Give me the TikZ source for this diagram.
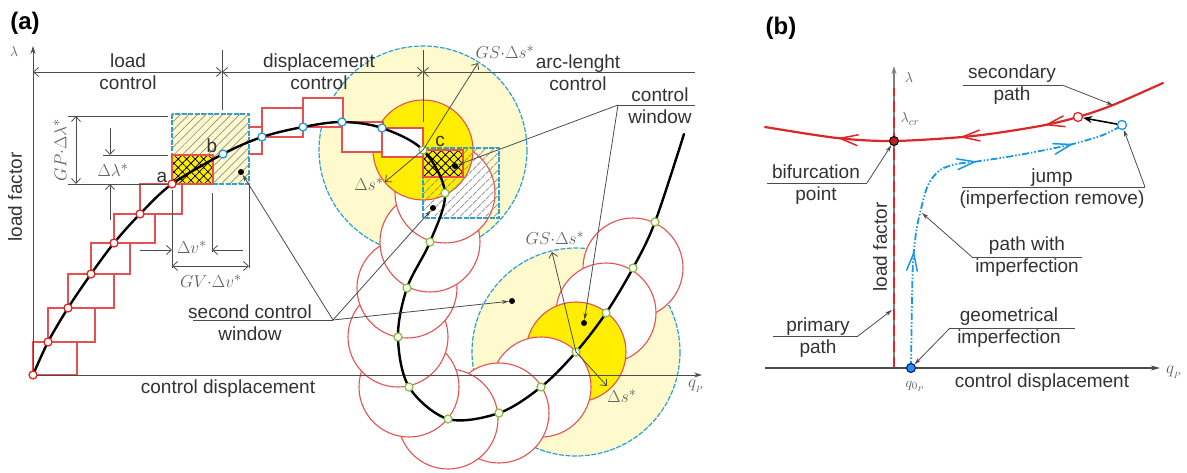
\documentclass[tikz,border=0pt]{standalone}
\usepackage{fontspec}
\setmainfont{Liberation Sans}
\usetikzlibrary{arrows.meta,patterns.meta,decorations.markings}

\definecolor{pathred}{RGB}{222,38,38}
\definecolor{boxred}{RGB}{230,80,80}
\definecolor{paleyellow}{RGB}{255,250,205}
\definecolor{fullyellow}{RGB}{255,238,0}
\definecolor{winblue}{RGB}{45,160,215}
\definecolor{dotgreen}{RGB}{135,195,65}
\definecolor{dotblue}{RGB}{35,155,215}
\definecolor{pathblue}{RGB}{25,150,225}
\definecolor{labelgray}{RGB}{50,50,50}
\definecolor{mathgray}{RGB}{95,95,95}

\newcommand{\lblsize}{\fontsize{19}{22}\selectfont}

\begin{document}
\begin{tikzpicture}[x=1pt,y=-1pt,
  lbl/.style={font=\lblsize, text=labelgray, align=center, inner sep=0pt},
  mlbl/.style={font=\lblsize, text=mathgray, inner sep=0pt},
  ink/.style={draw=black!70, line width=0.8pt},
  dim/.style={ink, >={Straight Barb[length=5pt,width=9pt]}},
  lead/.style={draw=black!70, line width=0.8pt, >={Stealth[length=7pt,width=4pt]}},
  stepbox/.style={draw=boxred, line width=1.1pt, fill=white},
  arcring/.style={draw=boxred, line width=1.1pt, fill=white},
  bigring/.style={draw=winblue, fill=paleyellow, line width=1.2pt, dash pattern=on 5pt off 1.5pt},
  window/.style={draw=winblue, line width=1.2pt, dash pattern=on 5pt off 1.5pt},
  hatch/.style={pattern={Lines[angle=45,distance=6pt,line width=0.7pt]}, pattern color=black!45},
  xhatch/.style={pattern={Hatch[angle=45,distance=6pt,line width=0.8pt]}, pattern color=black},
  redpt/.style={circle, draw=pathred, fill=white, line width=1.3pt, minimum size=8pt, inner sep=0pt},
  bluept/.style={redpt, draw=dotblue},
  greenpt/.style={redpt, draw=dotgreen},
  blackdot/.style={circle, fill=black, minimum size=6pt, inner sep=0pt},
  longbarb/.tip={Straight Barb[length=18pt,width=11pt,line width=1.5pt]},
]
\useasboundingbox (0,0) rectangle (1187,473);

\coordinate (c) at (423,150);
\foreach \n/\x/\y in {g1/445/193, g2/430/242, g3/407/288, g4/398/337, g5/409/387, g6/448/419,
  g7/499/413, g8/541/387, g9/576/352, g10/606/313, g11/633/268, g12/655/222}
  \coordinate (\n) at (\x,\y);

\path[bigring] (c) circle[radius=104];
\path[bigring] (g9) circle[radius=104];
\foreach \n in {g11,g10} \path[arcring] (\n) circle[radius=50];
\path[arcring, fill=fullyellow] (g9) circle[radius=50];
\foreach \n in {g8,g7,g6,g5,g4,g3,g2,g1} \path[arcring] (\n) circle[radius=50];
\path[arcring, fill=fullyellow] (c) circle[radius=50];

\foreach \a/\b/\cc/\d in {223/154/262/127, 262/137/303/108, 303/127/343/98, 342/122/383/152, 382/128/423/157}
  \path[stepbox] (\a,\b) rectangle (\cc,\d);
\path[window, hatch] (423,148) rectangle (499,218);
\path[fill=fullyellow] (423,150) rectangle (463,177);
\path[draw=boxred, line width=1.1pt, xhatch] (423,150) rectangle (463,177);

\foreach \a/\b/\cc/\d in {33/375/77/342, 48/342/95/308, 68/308/114/274, 91/274/130/243, 114/243/155/214, 140/214/182/184}
  \path[stepbox] (\a,\b) rectangle (\cc,\d);
\path[window, fill=paleyellow] (172,114) rectangle (249,184);
\path[hatch] (172,114) rectangle (249,184);
\path[fill=fullyellow] (172,155) rectangle (213,184);
\path[draw=boxred, line width=1.1pt, xhatch] (172,155) rectangle (213,184);

\draw[ink, -{Stealth[length=8pt,width=5pt]}] (33,375) -- (33,46);
\draw[ink, -{Stealth[length=8pt,width=5pt]}] (33,375) -- (702,375);
\node[mlbl, font=\fontsize{15}{17}\selectfont] (lam1) at (14,52) {$\lambda$};
\node[mlbl] (qp1) at (696,386) {$q_{_P}$};
\node[lbl, rotate=90] (lf1) at (15,197) {load factor};
\node[lbl] (cd1) at (228,389) {control displacement};
\node[font=\bfseries\fontsize{24}{28}\selectfont, inner sep=0pt] (pa) at (25,23) {(a)};

\draw[ink] (222,50) -- (222,110);
\draw[ink] (423,50) -- (423,122);
\draw[dim,<->] (33,72) -- (222,72);
\draw[dim,<->] (222,72) -- (423,72);
\draw[dim,<-] (423,72) -- (695,72);
\node[lbl] (hl) at (128,72) {load\\control};
\node[lbl] (hd) at (319,72) {displacement\\control};
\node[lbl] (ha) at (578,73) {arc-lenght\\control};

\draw[ink] (68,116) -- (168,116);
\draw[ink] (103,155) -- (168,155);
\draw[ink] (68,184) -- (172,184);
\draw[dim,<->] (76,116) -- (76,184);
\draw[dim,->] (110,128) -- (110,155);
\draw[dim,->] (110,220) -- (110,184);
\node[mlbl, rotate=90] (gpl) at (60,150) {$GP{\cdot}\Delta\lambda^*$};
\node[mlbl] (dll) at (113,170) {$\Delta\lambda^*$};

\draw[ink] (172,190) -- (172,268);
\draw[ink] (212,193) -- (212,252);
\draw[ink] (249,184) -- (249,268);
\draw[dim,->] (140,250) -- (172,250);
\draw[dim,->] (243,250) -- (212,250);
\draw[dim,<->] (172,266) -- (249,266);
\node[mlbl] (dvl) at (192,247) {$\Delta v^*$};
\node[mlbl] (gvl) at (211,281) {$GV{\cdot}\Delta v^*$};

\draw[line width=2.4pt, line cap=round] plot[smooth, tension=0.55] coordinates {(33,375) (48,342) (68,308) (91,274)
  (114,243) (140,214) (172,184) (223,154) (262,137) (303,127) (342,122) (382,128) (c) (g1) (g2) (g3) (g4)
  (g5) (g6) (g7) (g8) (g9) (g10) (g11) (g12) (684,134)};

\foreach \x/\y [count=\i] in {33/375, 48/342, 68/308, 91/274, 114/243, 140/214, 172/184}
  \node[redpt] (l\i) at (\x,\y) {};
\foreach \x/\y [count=\i] in {223/154, 262/137, 303/127, 342/122, 382/128}
  \node[bluept] (d\i) at (\x,\y) {};
\foreach \n in {c,g1,g2,g3,g4,g5,g6,g7,g8,g9,g10,g11,g12}
  \node[greenpt] (p\n) at (\n) {};
\node[lbl] (la) at (162,177) {a};
\node[lbl] (lb) at (212,146) {b};
\node[lbl] (lc) at (440,141) {c};

\coordinate (gs1) at (478,63);
\coordinate (ds1) at (385,182);
\coordinate (gs2) at (552,252);
\coordinate (ds2) at (607,386);
\draw[dim,->] (c) -- (gs1);
\draw[dim,->] (c) -- (ds1);
\draw[dim,->] (g9) -- (gs2);
\draw[dim,->] (g9) -- (ds2);
\node[mlbl] (gsl1) at (505,52) {$GS{\cdot}\Delta s^*$};
\node[mlbl] (dsl1) at (369,184) {$\Delta s^*$};
\node[mlbl] (gsl2) at (555,238) {$GS{\cdot}\Delta s^*$};
\node[mlbl] (dsl2) at (622,396) {$\Delta s^*$};

\node[blackdot] (w1) at (241,172) {};
\node[blackdot] (w2) at (433,208) {};
\node[blackdot] (w3) at (512,301) {};
\node[blackdot] (w4) at (455,166) {};
\node[blackdot] (w5) at (584,323) {};
\coordinate (sc) at (333,320);
\coordinate (cw) at (618,105);
\draw[ink] (193,320) -- (sc);
\draw[lead,->] (sc) -- (w1);
\draw[lead,->] (sc) -- (w2);
\draw[lead,->] (sc) -- (w3);
\draw[ink] (cw) -- (695,105);
\draw[lead,->] (cw) -- (w4);
\draw[lead,->] (cw) -- (w5);
\node[lbl] (scw) at (250,323) {second control\\window};
\node[lbl] (cwl) at (660,106) {control\\window};

\node[font=\bfseries\fontsize{24}{28}\selectfont, inner sep=0pt] (pb) at (781,28) {(b)};
\draw[draw=gray, line width=1.5pt, -{Stealth[length=8pt,width=5pt]}] (894,368) -- (894,66);
\draw[pathred, line width=2.2pt, dash pattern=on 11pt off 5pt] (894,368) -- (894,88);
\draw[draw=black!70, line width=1.3pt, -{Stealth[length=9pt,width=5pt]}] (765,368) -- (1160,368);
\node[mlbl, font=\fontsize{15}{17}\selectfont] (lam2) at (909,78) {$\lambda$};
\node[mlbl, font=\fontsize{15}{17}\selectfont] (lcr) at (910,119) {$\lambda_{cr}$};
\node[mlbl] (qp2) at (1174,372) {$q_{_P}$};
\node[mlbl, font=\fontsize{15}{17}\selectfont] (q0l) at (915,386) {$q_{0_P}$};
\node[lbl, rotate=90] (lf2) at (880,247) {load factor};
\node[lbl] (cd2) at (1042,383) {control displacement};

\draw[pathred, line width=2.2pt, line cap=round, postaction={decorate},
  decoration={markings, mark=at position 0.18 with {\arrowreversed{longbarb}},
    mark=at position 0.48 with {\arrowreversed{longbarb}}, mark=at position 0.69 with {\arrowreversed{longbarb}}}]
  plot[smooth] coordinates {(765,127) (837,138) (894,141) (973,136) (1040,126) (1078,117) (1113,105) (1163,83)};
\draw[pathblue, line width=1.8pt, dash pattern=on 7pt off 2pt on 1.5pt off 2pt on 1.5pt off 2pt, postaction={decorate},
  decoration={markings, mark=at position 0.3 with {\arrow{longbarb}},
    mark=at position 0.62 with {\arrow{longbarb}}, mark=at position 0.87 with {\arrow{longbarb}}}]
  plot[smooth] coordinates {(911,368) (912,300) (913,262) (916,233) (920,213) (928,185) (940,170) (957,164)
  (973,162) (1007,157) (1040,151) (1073,144) (1103,135) (1121,126)};

\node[redpt, minimum size=9pt] (sr) at (1078,117) {};
\node[redpt, draw=pathblue, minimum size=9pt] (sb) at (1122,125) {};
\node[circle, draw=black, fill=pathred!85!black, line width=1pt, minimum size=9pt, inner sep=0pt] (bif) at (894,141) {};
\node[circle, draw=blue!60!black, fill=pathblue, line width=1pt, minimum size=9pt, inner sep=0pt] (q0) at (911,368) {};
\draw[line width=1.6pt, -{Stealth[length=9pt,width=7pt]}] (sb) -- (sr);

\coordinate (u1) at (1062,85);
\coordinate (u2) at (867,183);
\coordinate (u3) at (1145,187);
\coordinate (u4) at (972,257);
\coordinate (u5) at (950,328);
\coordinate (u6) at (858,336);
\coordinate (t1) at (1113,105);
\coordinate (t4) at (922,213);
\coordinate (t6) at (892,310);
\draw[ink] (963,85) -- (u1);
\draw[ink] (767,183) -- (u2);
\draw[ink] (962,187) -- (u3);
\draw[ink] (u4) -- (1082,257);
\draw[ink] (u5) -- (1075,328);
\draw[ink] (773,336) -- (u6);
\draw[lead,->] (u1) -- (t1);
\draw[lead,->] (u2) -- (bif);
\draw[lead,->] (u3) -- (sb);
\draw[lead,->] (u4) -- (t4);
\draw[lead,->] (u5) -- (q0);
\draw[lead,->] (u6) -- (t6);
\node[lbl] (sec) at (1012,85) {secondary\\path};
\node[lbl] (bfp) at (816,185) {bifurcation\\point};
\node[lbl] (jmp) at (1052,189) {jump\\(imperfection remove)};
\node[lbl] (pwi) at (1027,257) {path with\\imperfection};
\node[lbl] (gim) at (1009,328) {geometrical\\imperfection};
\node[lbl] (prp) at (818,338) {primary\\path};
\end{tikzpicture}
\end{document}
